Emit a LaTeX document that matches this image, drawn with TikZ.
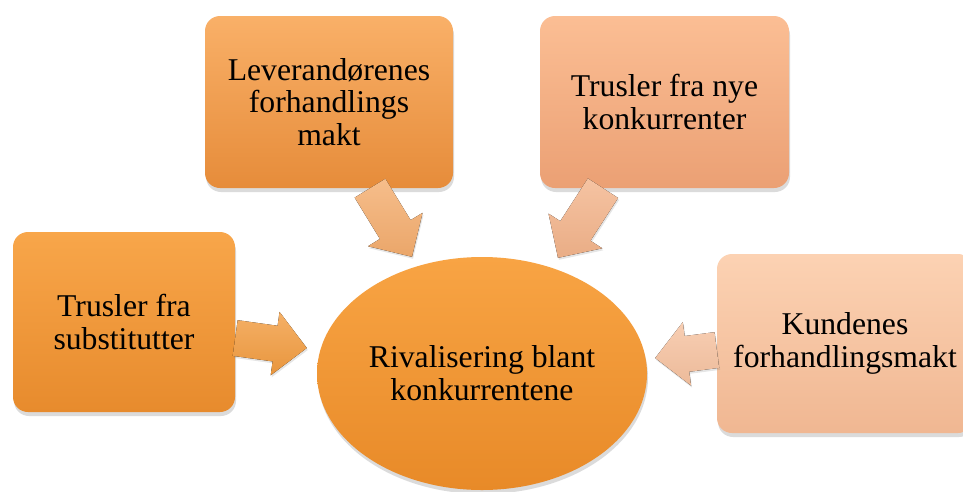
\documentclass[tikz,border=0pt]{standalone}
\usepackage{fontspec}
\setmainfont{Liberation Serif}
\usetikzlibrary{shapes.geometric,calc,shadows}
\definecolor{aTop}{HTML}{F9B068}\definecolor{aBot}{HTML}{E68C3A}
\definecolor{bTop}{HTML}{FBBE94}\definecolor{bBot}{HTML}{EBA074}
\definecolor{cTop}{HTML}{F8A64A}\definecolor{cBot}{HTML}{E78B2D}
\definecolor{dTop}{HTML}{FCD2B3}\definecolor{dBot}{HTML}{F0B792}
\definecolor{eTop}{HTML}{F8A444}\definecolor{eBot}{HTML}{E88A28}
\definecolor{arA}{HTML}{F4AD6E}\definecolor{arB}{HTML}{F3B48B}
\definecolor{arC}{HTML}{F29C40}\definecolor{arD}{HTML}{F6C2A0}
\tikzset{
  force/.style={rectangle, rounded corners=15pt, inner sep=0pt, align=center,
    font=\fontsize{31.7}{32.8}\selectfont,
    drop shadow={opacity=0.28, shadow xshift=1pt, shadow yshift=-4pt}},
  hub/.style={ellipse, inner sep=0pt, align=center,
    font=\fontsize{31.7}{32.8}\selectfont,
    drop shadow={opacity=0.28, shadow xshift=1pt, shadow yshift=-4pt}},
  arrowfill/.style={top color=#1!80!white, bottom color=#1!96!black,
    drop shadow={opacity=0.2, shadow xshift=1pt, shadow yshift=-2pt}}
}
\newcommand\blockarr[3]{%
  \coordinate (tmpP) at ($(#2)!32pt!(#1)$);
  \fill[arrowfill=#3] ($(#1)!18pt!90:(#2)$) -- ($(tmpP)!18pt!-90:(#1)$)
    -- ($(tmpP)!32pt!-90:(#1)$) -- (#2) -- ($(tmpP)!32pt!90:(#1)$)
    -- ($(tmpP)!18pt!90:(#1)$) -- ($(#1)!18pt!-90:(#2)$) -- cycle;
}
\begin{document}
\begin{tikzpicture}[x=1pt,y=-1pt]
  \clip (0,0) rectangle (963,491);
  \fill[white] (0,0) rectangle (963,491);
  \node[force, top color=aTop, bottom color=aBot, minimum width=248pt, minimum height=172pt]
    (b1) at (329,102) {Leverandørenes\\forhandlings\\makt};
  \node[force, top color=bTop, bottom color=bBot, minimum width=249pt, minimum height=172pt]
    (b2) at (664.5,102) {Trusler fra nye\\konkurrenter};
  \node[force, top color=cTop, bottom color=cBot, minimum width=222pt, minimum height=180pt]
    (b3) at (124,322) {Trusler fra\\substitutter};
  \node[force, top color=dTop, bottom color=dBot, minimum width=256pt, minimum height=179pt]
    (b4) at (845,343.5) {Kundenes\\forhandlingsmakt};
  \node[hub, top color=eTop, bottom color=eBot, minimum width=330pt, minimum height=233pt]
    (e) at (482,373.5) {Rivalisering blant\\konkurrentene};
  % arrow end points
  \coordinate (s1) at ($(b1.south)+(41,0)$);
  \coordinate (t1) at ($(e.north)+(-70,0)$);
  \coordinate (s2) at ($(b2.south)+(-61.5,0)$);
  \coordinate (t2) at ($(e.north)+(76,1)$);
  \coordinate (s3) at ($(b3.east)+(0,16)$);
  \coordinate (t3) at ($(e.west)+(-10,-25.5)$);
  \coordinate (s4) at ($(b4.west)+(0,6.5)$);
  \coordinate (t4) at ($(e.east)+(8,-15.5)$);
  \blockarr{s1}{t1}{arA}
  \blockarr{s2}{t2}{arB}
  \blockarr{s3}{t3}{arC}
  \blockarr{s4}{t4}{arD}
\end{tikzpicture}
\end{document}
